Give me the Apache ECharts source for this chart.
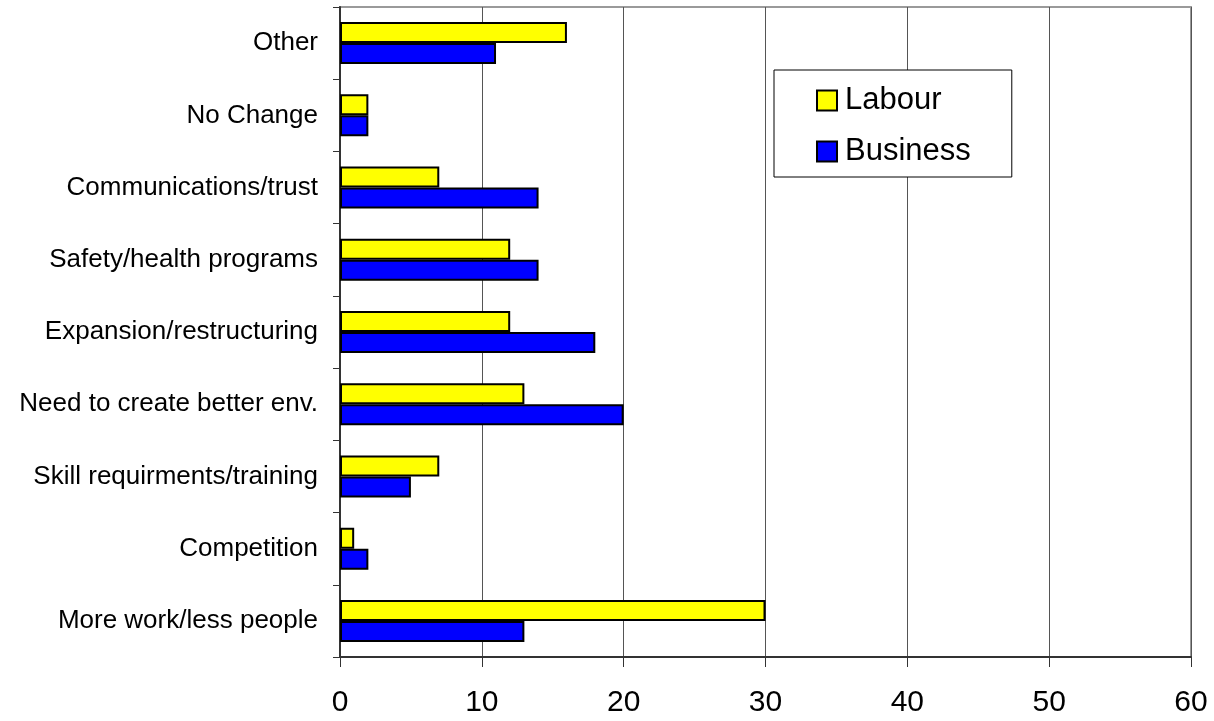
<!DOCTYPE html>
<html>
<head>
<meta charset="utf-8">
<script src="https://cdn.jsdelivr.net/npm/echarts@6/dist/echarts.min.js"></script>
<style>html,body{margin:0;padding:0;background:#fff;}#c{width:1214px;height:721px;}</style>
</head>
<body>
<div id="c"></div>
<script>
const categories = ['More work/less people','Competition','Skill requirments/training','Need to create better env.','Expansion/restructuring','Safety/health programs','Communications/trust','No Change','Other'];
const labour = [30, 1, 7, 13, 12, 12, 7, 2, 16];
const business = [13, 2, 5, 20, 18, 14, 14, 2, 11];
const xTicks = [0, 10, 20, 30, 40, 50, 60];

const chart = echarts.init(document.getElementById('c'), null, {renderer: 'canvas'});
const font = 'Arial, "Liberation Sans", sans-serif';
chart.setOption({
  animation: false,
  backgroundColor: '#fff',
  grid: {left: 340, right: 23, top: 7, bottom: 64, show: true, borderColor: '#9a9a9a', borderWidth: 2, containLabel: false},
  legend: {
    data: ['Labour', 'Business'],
    orient: 'vertical',
    left: 774, top: 70,
    icon: 'rect',
    itemWidth: 20, itemHeight: 20, itemGap: 20,
    backgroundColor: '#fff', borderColor: '#000', borderWidth: 1,
    padding: [15, 41, 10, 42],
    textStyle: {fontFamily: font, fontSize: 31, color: '#000', padding: [0, 0, 0, 3]},
    itemStyle: {borderColor: '#000', borderWidth: 2}
  },
  xAxis: {
    type: 'value', min: 0, max: 60, interval: 10,
    axisLine: {show: true, lineStyle: {color: '#333', width: 2}},
    axisTick: {show: true, length: 10, lineStyle: {color: '#333', width: 1}},
    axisLabel: {fontFamily: font, fontSize: 30, color: '#000', margin: 31,
      formatter: v => xTicks.includes(v) ? String(v) : ''},
    splitLine: {show: true, lineStyle: {color: '#555', width: 1}}
  },
  yAxis: {
    type: 'category', data: categories,
    axisLine: {show: true, lineStyle: {color: '#333', width: 2}},
    axisTick: {show: true, length: 7, alignWithLabel: false, lineStyle: {color: '#333', width: 1}},
    axisLabel: {fontFamily: font, fontSize: 26, color: '#000', margin: 22}
  },
  series: [
    {name: 'Labour', type: 'bar', data: labour, barWidth: 21, barGap: '0%',
      itemStyle: {color: '#ffff00', borderColor: '#000', borderWidth: 2}},
    {name: 'Business', type: 'bar', data: business, barWidth: 21, barGap: '0%',
      itemStyle: {color: '#0000ff', borderColor: '#000', borderWidth: 2}}
  ]
});
</script>
</body>
</html>
